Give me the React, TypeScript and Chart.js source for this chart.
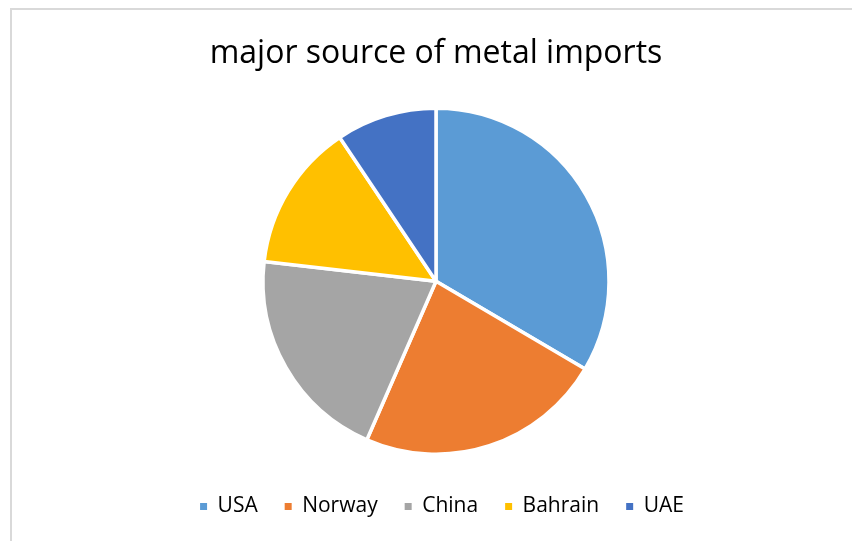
import React, { useEffect, useRef } from "react";
import { Chart, registerables } from "chart.js";

Chart.register(...registerables);

const TITLE = "major source of metal imports";
const categories = ["USA", "Norway", "China", "Bahrain", "UAE"];
const shares = [33.5, 23.1, 20.3, 13.8, 9.4];
const colors = ["#5B9BD5", "#ED7D31", "#A5A5A5", "#FFC000", "#4472C4"];
const FONT = "'Open Sans', sans-serif";

const legendShift = {
  id: "legendShift",
  afterLayout(chart: any) {
    const lg = chart.legend;
    if (lg) {
      lg.left += 6;
      lg.right += 6;
    }
  },
};

export default function App() {
  const ref = useRef<HTMLCanvasElement | null>(null);

  useEffect(() => {
    document.body.style.margin = "0";
    document.body.style.overflow = "hidden";
    const canvas = ref.current;
    if (!canvas) return;
    const chart = new Chart(canvas, {
      type: "pie",
      data: {
        labels: categories,
        datasets: [
          {
            data: shares,
            backgroundColor: colors,
            borderColor: "#ffffff",
            borderWidth: 3.5,
          },
        ],
      },
      options: {
        animation: false,
        responsive: false,
        maintainAspectRatio: false,
        radius: 173,
        layout: { padding: { top: 0, bottom: 14, left: 20, right: 0 } },
        plugins: {
          tooltip: { enabled: false },
          title: {
            display: true,
            text: TITLE,
            color: "#000000",
            font: { family: FONT, size: 32, weight: "normal", lineHeight: 1.2 },
            padding: { top: 35, bottom: 20 },
          },
          legend: {
            display: true,
            position: "bottom",
            labels: {
              color: "#000000",
              font: { family: FONT, size: 21 },
              boxWidth: 7,
              boxHeight: 7,
              padding: 27,
              generateLabels: (c: any) => {
                const base = (Chart as any).overrides.pie.plugins.legend.labels.generateLabels(c);
                return base.map((i: any) => ({ ...i, lineWidth: 0, strokeStyle: "rgba(0,0,0,0)" }));
              },
            },
          },
        },
      } as any,
      plugins: [legendShift],
    });
    return () => chart.destroy();
  }, []);

  return (
    <div style={{ position: "relative", width: 852, height: 541, overflow: "hidden", background: "#fff" }}>
      <div
        style={{
          position: "absolute",
          left: 10,
          top: 8,
          width: 2,
          height: 600,
          background: "#d9d9d9",
        }}
      />
      <div
        style={{
          position: "absolute",
          left: 10,
          top: 8,
          width: 2000,
          height: 2,
          background: "#d9d9d9",
        }}
      />
      <canvas ref={ref} width={852} height={541} style={{ position: "absolute", left: 0, top: 0 }} />
    </div>
  );
}
